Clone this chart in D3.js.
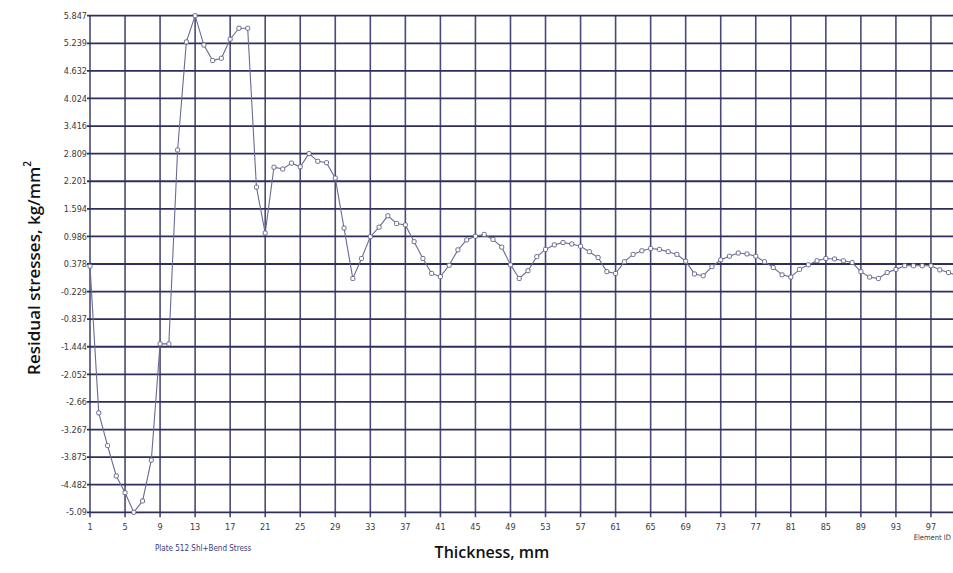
<!DOCTYPE html>
<html>
<head>
<meta charset="utf-8">
<script src="https://cdn.jsdelivr.net/npm/d3@7"></script>
<style>
  body { margin: 0; background: #fff; }
  svg { display: block; }
</style>
</head>
<body>
<svg></svg>
<script>
const width = 953;
const height = 573;

// element id along the thickness, 1..100
const elementIds = d3.range(1, 101);
// residual stress at each element, kg/mm2
const stressValues = [
  0.33, -2.90, -3.62, -4.29, -4.66, -5.09, -4.84, -3.94, -1.38, -1.38,
  2.89, 5.27, 5.847, 5.20, 4.86, 4.91, 5.33, 5.57, 5.57, 2.07,
  1.06, 2.51, 2.47, 2.60, 2.52, 2.81, 2.64, 2.61, 2.27, 1.17,
  0.06, 0.50, 0.98, 1.19, 1.44, 1.27, 1.24, 0.87, 0.50, 0.17,
  0.10, 0.35, 0.69, 0.91, 0.99, 1.03, 0.92, 0.75, 0.36, 0.06,
  0.23, 0.54, 0.70, 0.80, 0.85, 0.82, 0.77, 0.65, 0.52, 0.21,
  0.17, 0.43, 0.59, 0.67, 0.72, 0.70, 0.65, 0.59, 0.44, 0.16,
  0.12, 0.32, 0.47, 0.55, 0.62, 0.60, 0.55, 0.43, 0.30, 0.14,
  0.09, 0.26, 0.36, 0.45, 0.50, 0.49, 0.45, 0.41, 0.21, 0.09,
  0.06, 0.19, 0.26, 0.34, 0.34, 0.34, 0.34, 0.25, 0.19, 0.12
];
const xTicks = d3.range(1, 98, 4);
const yTicks = [5.847, 5.239, 4.632, 4.024, 3.416, 2.809, 2.201, 1.594, 0.986, 0.378,
  -0.229, -0.837, -1.444, -2.052, -2.66, -3.267, -3.875, -4.482, -5.09];

const margin = { top: 15.7, left: 90, bottom: 60.7 };
const plotBottom = height - margin.bottom;

const svg = d3.select('svg')
  .attr('width', width)
  .attr('height', height);

const x = d3.scaleLinear().domain([1, 101]).range([margin.left, margin.left + 100 * 8.76]);
const y = d3.scaleLinear().domain([-5.09, 5.847]).range([plotBottom, margin.top]);

svg.append('defs').append('clipPath').attr('id', 'plot')
  .append('rect')
  .attr('x', margin.left - 4).attr('y', margin.top - 4)
  .attr('width', width - margin.left + 4).attr('height', plotBottom - margin.top + 8);

// grid
const grid = svg.append('g');
grid.selectAll('line.v')
  .data(xTicks)
  .enter().append('line')
  .attr('class', 'v')
  .attr('x1', d => x(d)).attr('x2', d => x(d))
  .attr('y1', margin.top).attr('y2', plotBottom + 5)
  .attr('stroke', '#4a4a78')
  .attr('stroke-width', 1.6);

grid.selectAll('line.h')
  .data(yTicks)
  .enter().append('line')
  .attr('class', 'h')
  .attr('x1', margin.left - 3).attr('x2', width)
  .attr('y1', d => y(d)).attr('y2', d => y(d))
  .attr('stroke', '#2e2e5c')
  .attr('stroke-width', 1.8);

// tick labels
svg.append('g').selectAll('text')
  .data(yTicks)
  .enter().append('text')
  .attr('x', margin.left - 3)
  .attr('y', d => y(d))
  .attr('dy', '0.35em')
  .attr('text-anchor', 'end')
  .attr('font-family', '"Liberation Sans Narrow", "DejaVu Sans Condensed", sans-serif')
  .attr('font-size', 9)
  .attr('fill', '#3a3a3a')
  .text(d => d);

svg.append('g').selectAll('text')
  .data(xTicks)
  .enter().append('text')
  .attr('x', d => x(d))
  .attr('y', plotBottom + 18)
  .attr('text-anchor', 'middle')
  .attr('font-family', '"Liberation Sans Narrow", "DejaVu Sans Condensed", sans-serif')
  .attr('font-size', 9)
  .attr('fill', '#3a3a3a')
  .text(d => d);

// series
const line = d3.line()
  .x((d, i) => x(elementIds[i]))
  .y(d => y(d));

const series = svg.append('g').attr('clip-path', 'url(#plot)');
series.append('path')
  .datum(stressValues)
  .attr('d', line)
  .attr('fill', 'none')
  .attr('stroke', '#6a6a94')
  .attr('stroke-width', 1.1);

series.selectAll('rect')
  .data(stressValues)
  .enter().append('rect')
  .attr('x', (d, i) => x(elementIds[i]) - 2)
  .attr('y', d => y(d) - 2)
  .attr('width', 4)
  .attr('height', 4)
  .attr('rx', 1)
  .attr('fill', '#fff')
  .attr('stroke', '#5e5e86')
  .attr('stroke-width', 0.9);

// titles
svg.append('text')
  .attr('transform', 'translate(40, 268) rotate(-90)')
  .attr('text-anchor', 'middle')
  .attr('font-family', '"Open Sans", sans-serif')
  .attr('font-size', 17)
  .attr('font-weight', 600)
  .attr('fill', '#111')
  .text('Residual stresses, kg/mm')
  .append('tspan')
  .attr('dy', -9)
  .attr('font-size', 10)
  .text('2');

svg.append('text')
  .attr('x', 492)
  .attr('y', 558)
  .attr('text-anchor', 'middle')
  .attr('font-family', '"Open Sans", sans-serif')
  .attr('font-size', 16)
  .attr('font-weight', 600)
  .attr('fill', '#111')
  .text('Thickness, mm');

svg.append('text')
  .attr('x', 155)
  .attr('y', 551)
  .attr('font-family', '"Liberation Sans Narrow", "DejaVu Sans Condensed", sans-serif')
  .attr('font-size', 8)
  .attr('fill', '#3a3a7a')
  .text('Plate 512 Shl+Bend Stress');

svg.append('text')
  .attr('x', 951)
  .attr('y', 540)
  .attr('text-anchor', 'end')
  .attr('font-family', '"Liberation Sans Narrow", "DejaVu Sans Condensed", sans-serif')
  .attr('font-size', 7.5)
  .attr('fill', '#3a3a3a')
  .text('Element ID');
</script>
</body>
</html>
